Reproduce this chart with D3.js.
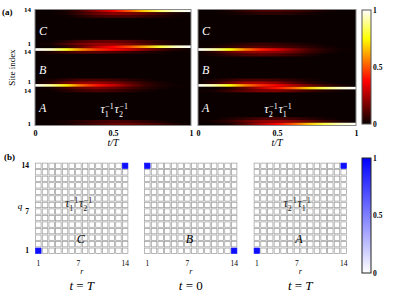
<!DOCTYPE html>
<html>
<head>
<meta charset="utf-8">
<script src="https://cdn.jsdelivr.net/npm/d3@7"></script>
<style>
  body { margin: 0; background: #fff; }
  svg { display: block; }
  text { font-family: "Liberation Serif", "DejaVu Serif", serif; }
</style>
</head>
<body>
<svg id="chart" width="397" height="300"></svg>
<script>
// ---- data ----
const sections = ['C', 'B', 'A'];
const siteIndex = [14, 13, 12, 11, 10, 9, 8, 7, 6, 5, 4, 3, 2, 1];
const timeSamples = [0, 0.1, 0.2, 0.3, 0.4, 0.5, 0.6, 0.7, 0.8, 0.9, 1];
const timeTicks = [0, 0.5, 1];

// density along t/T for the rows that are not dark (section, site, values)
const rowsT1T2 = [
    ['C', 14, [0, 0, 0.02, 0.1, 0.22, 0.35, 0.5, 0.68, 0.85, 0.96, 1]],
    ['C', 13, [0, 0, 0.02, 0.08, 0.15, 0.2, 0.18, 0.14, 0.08, 0.03, 0]],
    ['C', 12, [0, 0, 0, 0.04, 0.08, 0.1, 0.1, 0.07, 0.04, 0.01, 0]],
    ['C', 3, [0, 0, 0.04, 0.1, 0.14, 0.15, 0.12, 0.08, 0.04, 0.01, 0]],
    ['C', 2, [0, 0.02, 0.1, 0.18, 0.22, 0.22, 0.18, 0.12, 0.06, 0.02, 0]],
    ['C', 1, [0, 0, 0.05, 0.15, 0.28, 0.38, 0.48, 0.62, 0.8, 0.94, 1]],
    ['B', 14, [1, 0.95, 0.78, 0.58, 0.45, 0.38, 0.3, 0.2, 0.1, 0.04, 0]],
    ['B', 13, [0, 0.03, 0.08, 0.12, 0.12, 0.1, 0.07, 0.04, 0.02, 0, 0]],
    ['B', 3, [0, 0.02, 0.06, 0.1, 0.1, 0.08, 0.05, 0.02, 0, 0, 0]],
    ['B', 2, [0, 0.05, 0.15, 0.22, 0.22, 0.18, 0.12, 0.06, 0.02, 0, 0]],
    ['B', 1, [1, 0.9, 0.72, 0.52, 0.4, 0.3, 0.18, 0.08, 0.03, 0.01, 0]],
    ['A', 14, [0, 0.02, 0.08, 0.15, 0.18, 0.15, 0.1, 0.05, 0.02, 0, 0]],
    ['A', 13, [0, 0, 0.04, 0.08, 0.1, 0.08, 0.05, 0.02, 0, 0, 0]],
    ['A', 2, [0, 0, 0.02, 0.05, 0.08, 0.1, 0.08, 0.05, 0.02, 0, 0]],
    ['A', 1, [0, 0, 0.02, 0.06, 0.1, 0.14, 0.15, 0.12, 0.08, 0.03, 0]]
];

const rowsT2T1 = [
    ['C', 14, [0, 0, 0.02, 0.06, 0.1, 0.1, 0.08, 0.05, 0.02, 0, 0]],
    ['C', 13, [0, 0, 0.01, 0.03, 0.05, 0.05, 0.04, 0.02, 0, 0, 0]],
    ['C', 2, [0, 0, 0.02, 0.05, 0.07, 0.06, 0.04, 0.02, 0, 0, 0]],
    ['C', 1, [0, 0.02, 0.06, 0.1, 0.12, 0.1, 0.08, 0.05, 0.02, 0, 0]],
    ['B', 14, [1, 0.92, 0.76, 0.56, 0.42, 0.32, 0.2, 0.1, 0.04, 0.01, 0]],
    ['B', 13, [0, 0.05, 0.14, 0.2, 0.22, 0.2, 0.15, 0.08, 0.03, 0, 0]],
    ['B', 12, [0, 0.02, 0.06, 0.1, 0.12, 0.1, 0.07, 0.03, 0, 0, 0]],
    ['B', 3, [0, 0.02, 0.06, 0.1, 0.1, 0.08, 0.05, 0.02, 0, 0, 0]],
    ['B', 2, [0, 0.05, 0.15, 0.24, 0.25, 0.2, 0.12, 0.05, 0.02, 0, 0]],
    ['B', 1, [1, 0.92, 0.76, 0.56, 0.44, 0.36, 0.26, 0.16, 0.08, 0.03, 0]],
    ['A', 14, [0, 0, 0.04, 0.14, 0.28, 0.4, 0.52, 0.68, 0.84, 0.95, 1]],
    ['A', 13, [0, 0.02, 0.08, 0.14, 0.18, 0.18, 0.14, 0.08, 0.04, 0.01, 0]],
    ['A', 3, [0, 0, 0.03, 0.06, 0.1, 0.1, 0.08, 0.05, 0.02, 0, 0]],
    ['A', 2, [0, 0.02, 0.06, 0.14, 0.2, 0.22, 0.2, 0.14, 0.08, 0.03, 0]],
    ['A', 1, [0, 0, 0.03, 0.12, 0.26, 0.38, 0.5, 0.66, 0.82, 0.94, 1]]
];

// panel (b): non-zero cells [r, q, value]
const cellsC = [[1, 1, 0.95], [14, 14, 0.95]];
const cellsB = [[1, 14, 0.95], [14, 1, 0.95]];
const cellsA = [[1, 1, 0.95], [14, 14, 0.95]];
const gridTicks = [1, 7, 14];
const cbTicks = [0, 0.5, 1];

// ---- drawing ----
const svg = d3.select('#chart');
const defs = svg.append('defs');

// MATLAB "hot" colour map
const hot = d3.scaleLinear()
    .domain([0, 0.375, 0.75, 1])
    .range(['#0a0000', '#ff0000', '#ffff00', '#ffffff'])
    .clamp(true);
const blues = d3.scaleLinear().domain([0, 1]).range(['#ffffff', '#0000ff']);

const rowKeys = [];
sections.forEach(s => siteIndex.forEach(n => rowKeys.push(s + n)));

const plotTop = 9.5, plotBottom = 125.5;
const yRow = d3.scaleBand().domain(rowKeys).range([plotTop, plotBottom]);

// tau_i^{-1} tau_j^{-1} label
function tauLabel(g, x, y, order, color) {
    const t = g.append('text')
        .attr('x', x).attr('y', y)
        .attr('fill', color)
        .attr('font-size', 12);
    order.forEach((k, i) => {
        t.append('tspan').attr('font-style', 'italic')
            .attr('dy', i === 0 ? 0 : -3.5).attr('dx', i === 0 ? 0 : 0.5).text('τ');
        t.append('tspan').attr('font-size', 8).attr('dy', 3.5).text(k);
        t.append('tspan').attr('font-size', 8).attr('dx', -3.5).attr('dy', -8).text('−1');
        t.append('tspan').attr('font-size', 1).attr('dy', 8).text(' ');
    });
}

function heatPanel(id, x0, x1, rows, order) {
    const g = svg.append('g');
    const x = d3.scaleLinear().domain([0, 1]).range([x0, x1]);

    g.append('rect')
        .attr('x', x0).attr('y', plotTop).attr('width', x1 - x0).attr('height', plotBottom - plotTop)
        .attr('fill', hot(0));

    rows.forEach(r => {
        const key = r[0] + r[1];
        const gid = `${id}-${key}`;
        const grad = defs.append('linearGradient').attr('id', gid)
            .attr('x1', 0).attr('x2', 1).attr('y1', 0).attr('y2', 0);
        timeSamples.forEach((t, j) => {
            grad.append('stop')
                .attr('offset', (x(t) - x0) / (x1 - x0))
                .attr('stop-color', hot(r[2][j]));
        });
        g.append('rect')
            .attr('x', x0).attr('y', yRow(key))
            .attr('width', x1 - x0).attr('height', yRow.bandwidth())
            .attr('fill', `url(#${gid})`);
    });

    g.append('rect')
        .attr('x', x0).attr('y', plotTop).attr('width', x1 - x0).attr('height', plotBottom - plotTop)
        .attr('fill', 'none').attr('stroke', '#888').attr('stroke-width', 1);

    // section letters
    sections.forEach(s => {
        g.append('text')
            .attr('x', x0 + 4).attr('y', yRow(s + 7) + 6)
            .attr('fill', '#fff').attr('font-style', 'italic').attr('font-size', 12)
            .text(s);
    });
    tauLabel(g, x(0.42), yRow('A7') + 7, order, '#fff');

    const ax = g.append('g')
        .attr('transform', `translate(0,${plotBottom + 2})`)
        .call(d3.axisBottom(x).tickValues(timeTicks).tickSize(0).tickFormat(d3.format('')));
    ax.select('.domain').remove();
    ax.selectAll('text').attr('font-family', '"Liberation Serif", serif')
        .attr('font-size', 8).attr('font-weight', 'bold').attr('fill', '#000').attr('dy', '0.7em');

    g.append('text')
        .attr('x', (x0 + x1) / 2).attr('y', 146)
        .attr('text-anchor', 'middle').attr('font-size', 10).attr('font-style', 'italic')
        .text('t/T');
    return g;
}

heatPanel('L', 35, 191, rowsT1T2, [1, 2]);
heatPanel('R', 198, 356, rowsT2T1, [2, 1]);

// y axis for (a): site 14 and 1 of each section
const yEnds = rowKeys.filter(k => k.endsWith('14') || /^[A-C]1$/.test(k));
yEnds.forEach((k, i) => {
    let nudge = 0;
    if (i > 0 && i < yEnds.length - 1) nudge = k.endsWith('14') ? 2.8 : -2.6;
    svg.append('text')
        .attr('x', 31).attr('y', yRow(k) + yRow.bandwidth() / 2 + nudge)
        .attr('text-anchor', 'end').attr('dominant-baseline', 'middle')
        .attr('font-size', 7).attr('font-weight', 'bold')
        .text(k.slice(1));
});
svg.append('text')
    .attr('transform', `translate(15,${(plotTop + plotBottom) / 2}) rotate(-90)`)
    .attr('text-anchor', 'middle').attr('font-size', 9)
    .text('Site index');
svg.append('text').attr('x', 2).attr('y', 15)
    .attr('font-size', 9).attr('font-weight', 'bold').text('(a)');

// colour bars
function colorBar(id, x0, y0, y1, scale, stroke) {
    const grad = defs.append('linearGradient').attr('id', id)
        .attr('x1', 0).attr('x2', 0).attr('y1', 1).attr('y2', 0);
    scale.domain().forEach(d => {
        grad.append('stop').attr('offset', d).attr('stop-color', scale(d));
    });
    svg.append('rect')
        .attr('x', x0).attr('y', y0).attr('width', 9).attr('height', y1 - y0)
        .attr('fill', `url(#${id})`).attr('stroke', stroke).attr('stroke-width', 1);
    const yc = d3.scaleLinear().domain([0, 1]).range([y1, y0]);
    const ax = svg.append('g')
        .attr('transform', `translate(${x0 + 9},0)`)
        .call(d3.axisRight(yc).tickValues(cbTicks).tickSize(0).tickPadding(2).tickFormat(d3.format('')));
    ax.select('.domain').remove();
    ax.selectAll('text').attr('font-family', '"Liberation Serif", serif')
        .attr('font-size', 7.5).attr('font-weight', 'bold').attr('fill', '#000');
}
colorBar('cbHot', 362, 10, 124, hot, '#555');
colorBar('cbBlue', 362, 158, 273, blues, '#222');

// ---- panel (b) ----
const gTop = 162.5, gBottom = 254, gWidth = 93.5;
const grids = [
    { x0: 35, cells: cellsC, letter: 'C', time: 'T', order: [1, 2] },
    { x0: 144, cells: cellsB, letter: 'B', time: '0', order: null },
    { x0: 253.5, cells: cellsA, letter: 'A', time: 'T', order: [2, 1] }
];

grids.forEach((gd, gi) => {
    const g = svg.append('g');
    const xr = d3.scaleBand().domain(d3.range(1, 15)).range([gd.x0, gd.x0 + gWidth]);
    const yq = d3.scaleBand().domain(d3.range(14, 0, -1)).range([gTop, gBottom]);
    const val = new Map(gd.cells.map(c => [c[0] + ',' + c[1], c[2]]));
    const cells = [];
    xr.domain().forEach(r => yq.domain().forEach(q => cells.push({ r, q, v: val.get(r + ',' + q) || 0 })));

    g.selectAll('rect.cell').data(cells).enter().append('rect')
        .attr('class', 'cell')
        .attr('x', d => xr(d.r) + 0.6).attr('y', d => yq(d.q) + 0.6)
        .attr('width', xr.bandwidth() - 1.2).attr('height', yq.bandwidth() - 1.2)
        .attr('fill', d => blues(d.v))
        .attr('stroke', d => d.v > 0 ? blues(d.v) : '#9a9a9a').attr('stroke-width', 0.7);

    g.append('text')
        .attr('x', gd.x0 + gWidth / 2 - 5).attr('y', yq(2) + 2)
        .attr('font-size', 12).attr('font-style', 'italic').text(gd.letter);
    if (gd.order) tauLabel(g, gd.x0 + 30, yq(7) - 1, gd.order, '#222');

    const axB = g.append('g').attr('transform', `translate(0,${gBottom + 4})`)
        .call(d3.axisBottom(xr).tickValues(gridTicks).tickSize(0));
    axB.select('.domain').remove();
    axB.selectAll('text').attr('font-family', '"Liberation Serif", serif')
        .attr('font-size', 7.5).attr('fill', '#000').attr('dy', '0.7em');

    if (gi === 0) {
        const axL = g.append('g').attr('transform', `translate(${gd.x0 - 3},0)`)
            .call(d3.axisLeft(yq).tickValues(gridTicks).tickSize(0));
        axL.select('.domain').remove();
        axL.selectAll('text').attr('font-family', '"Liberation Serif", serif')
            .attr('font-size', 7.5).attr('font-weight', 'bold').attr('fill', '#000');
        g.append('text').attr('x', 20).attr('y', 209)
            .attr('font-size', 9).attr('font-style', 'italic').attr('text-anchor', 'middle').text('q');
    }
    g.append('text').attr('x', gd.x0 + gWidth / 2).attr('y', 274)
        .attr('font-size', 8).attr('font-style', 'italic').attr('text-anchor', 'middle').text('r');

    const tl = g.append('text').attr('x', gd.x0 + gWidth / 2).attr('y', 290)
        .attr('font-size', 13).attr('text-anchor', 'middle');
    tl.append('tspan').attr('font-style', 'italic').text('t');
    tl.append('tspan').text(' = ');
    if (gd.time === '0') tl.append('tspan').text('0');
    else tl.append('tspan').attr('font-style', 'italic').text('T');
});

svg.append('text').attr('x', 4).attr('y', 160)
    .attr('font-size', 9).attr('font-weight', 'bold').text('(b)');
</script>
</body>
</html>
